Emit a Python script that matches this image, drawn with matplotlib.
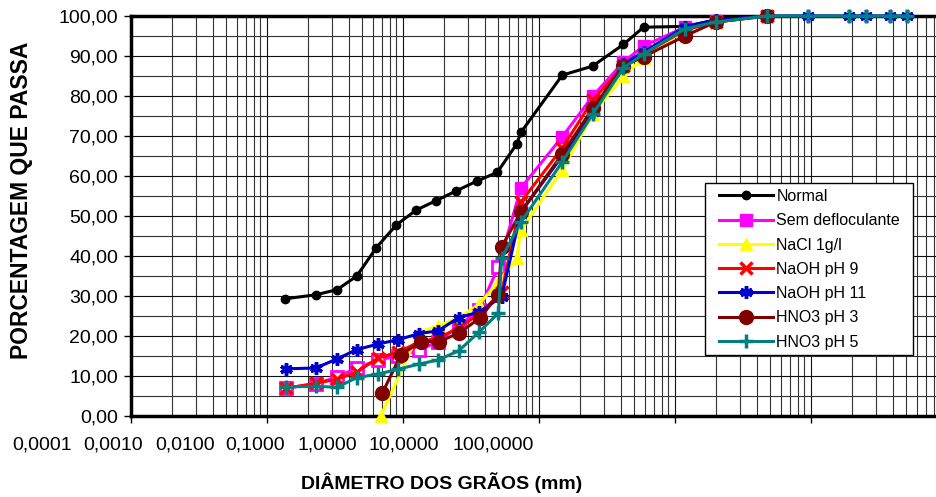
import numpy as np
import matplotlib.pyplot as plt
from matplotlib.patches import Rectangle
from matplotlib.ticker import LogLocator, MultipleLocator, NullFormatter

plt.rcParams['font.family'] = ['Liberation Sans', 'DejaVu Sans']

# Curvas granulométricas: diâmetro (mm) x porcentagem que passa.
normal_x = [0.00136, 0.0023, 0.0033, 0.0046, 0.0064, 0.0090, 0.0126, 0.0175,
            0.0245, 0.035, 0.0496, 0.0689, 0.074, 0.149, 0.25, 0.42, 0.59,
            1.19, 2.0, 4.76]
normal_y = [29.3, 30.3, 31.6, 35.0, 42.1, 47.8, 51.5, 53.8, 56.2, 58.7, 60.9,
            68.0, 70.9, 85.2, 87.5, 92.9, 97.2, 97.4, 99.0, 100.0]

semdef_x = [0.00138, 0.0023, 0.0033, 0.0046, 0.0066, 0.0093, 0.0132, 0.0182,
            0.0258, 0.0365, 0.0505, 0.074, 0.149, 0.25, 0.42, 0.59, 1.19,
            2.0, 4.76]
semdef_y = [7.0, 8.0, 9.8, 12.0, 14.0, 15.0, 16.5, 18.6, 22.5, 26.5, 37.3,
            57.0, 69.8, 80.0, 88.5, 92.5, 97.2, 98.8, 100.0]

nacl_x = [0.0069, 0.0132, 0.0182, 0.0258, 0.0365, 0.0505, 0.069, 0.074,
          0.149, 0.25, 0.42, 0.59, 1.19, 2.0, 4.76]
nacl_y = [0.0, 21.0, 22.5, 24.5, 28.0, 33.5, 39.5, 46.5, 61.5, 75.5, 85.0,
          89.5, 96.5, 98.5, 100.0]

naoh9_x = [0.00138, 0.0023, 0.0033, 0.0046, 0.0066, 0.0093, 0.0132, 0.0182,
           0.0258, 0.0365, 0.0534, 0.074, 0.149, 0.25, 0.42, 0.59, 1.19,
           2.0, 4.76]
naoh9_y = [6.9, 8.2, 9.2, 11.0, 14.5, 16.0, 18.5, 19.5, 22.0, 25.5, 31.0,
           53.5, 67.0, 79.0, 87.5, 90.5, 96.5, 98.5, 100.0]

naoh11_x = [0.00138, 0.0023, 0.0033, 0.0046, 0.0066, 0.0093, 0.0132, 0.0182,
            0.0258, 0.0365, 0.0534, 0.074, 0.149, 0.25, 0.42, 0.59, 1.19,
            2.0, 4.76, 9.52, 19.1, 25.4, 38.1, 50.8]
naoh11_y = [11.8, 12.0, 14.3, 16.6, 18.0, 19.1, 20.6, 21.3, 24.6, 26.0, 29.8,
            51.0, 65.0, 76.0, 88.0, 91.0, 97.3, 99.0, 100.0, 100.0, 100.0,
            100.0, 100.0, 100.0]

hno3_3_x = [0.0071, 0.0097, 0.0136, 0.0186, 0.0261, 0.037, 0.0505, 0.0534,
            0.074, 0.149, 0.25, 0.42, 0.59, 1.19, 2.0, 4.76]
hno3_3_y = [5.8, 15.3, 18.6, 18.6, 20.8, 24.5, 30.3, 42.3, 51.0, 65.5, 77.0,
            87.5, 89.8, 95.0, 98.5, 100.0]

hno3_5_x = [0.00138, 0.0023, 0.0033, 0.0046, 0.0066, 0.0093, 0.0132, 0.0182,
            0.0258, 0.0365, 0.0505, 0.0534, 0.074, 0.149, 0.25, 0.42, 0.59,
            1.19, 2.0, 4.76, 9.52, 19.1, 25.4, 38.1, 50.8]
hno3_5_y = [7.3, 7.4, 7.2, 9.6, 10.5, 11.7, 13.0, 14.0, 16.3, 21.0, 25.7,
            39.5, 48.5, 63.5, 75.5, 87.0, 90.5, 96.8, 98.5, 100.0, 100.0,
            100.0, 100.0, 100.0, 100.0]

labels = ['Normal', 'Sem defloculante', 'NaCl 1g/l', 'NaOH pH 9',
          'NaOH pH 11', 'HNO3 pH 3', 'HNO3 pH 5']
y_ticks = [0, 10, 20, 30, 40, 50, 60, 70, 80, 90, 100]
y_ticklabels = ['0,00', '10,00', '20,00', '30,00', '40,00', '50,00',
                '60,00', '70,00', '80,00', '90,00', '100,00']
x_ticklabels = ['0,0001', '0,0010', '0,0100', '0,1000', '1,0000',
                '10,0000', '100,0000']

series = [(normal_x, normal_y), (semdef_x, semdef_y), (nacl_x, nacl_y),
          (naoh9_x, naoh9_y), (naoh11_x, naoh11_y), (hno3_3_x, hno3_3_y),
          (hno3_5_x, hno3_5_y)]

# Estilo de cada série (cor, marcador, tamanho)
styles = [
    dict(color='black', marker='o', ms=6),
    dict(color='#ff00ff', marker='s', ms=8),
    dict(color='#ffff00', marker='^', ms=8.5),
    dict(color='#ff0000', marker='x', ms=8, mew=2.5),
    dict(color='#0000cc', marker=(6, 2, 0), ms=9, mew=2.5),
    dict(color='#800000', marker='o', ms=10),
    dict(color='#008080', marker='+', ms=10, mew=2.5),
]

W, H = 936, 497
fig = plt.figure(figsize=(W / 100, H / 100), dpi=100)
left, bottom, top = 130.7, 416, 16
ax = fig.add_axes([left / W, (H - bottom) / H, 1 - left / W, (bottom - top) / H])

ax.set_xscale('log')
ax.set_xlim(1e-4, 10 ** (-4 + (W - left) / 136))
ax.set_ylim(0, 100)

for (xs, ys), lab, st in zip(series, labels, styles):
    if lab == 'Sem defloculante':
        # pontos da sedimentação aparecem vazados no original
        n_sed = 11
        ax.plot(xs, ys, lw=2.2, label=lab, clip_on=False, zorder=3,
                markevery=list(range(n_sed, len(xs))), **st)
        ax.plot(xs[:n_sed], ys[:n_sed], ls='none', marker='s', ms=8,
                mfc='white', mec='#ff00ff', mew=2, clip_on=False, zorder=3)
    else:
        ax.plot(xs, ys, lw=2.2, label=lab, clip_on=False, zorder=3, **st)

# grade
ax.xaxis.set_major_locator(LogLocator(base=10, numticks=20))
ax.xaxis.set_minor_locator(LogLocator(base=10, subs=np.arange(2, 10), numticks=100))
ax.xaxis.set_major_formatter(NullFormatter())
ax.xaxis.set_minor_formatter(NullFormatter())
ax.set_yticks(y_ticks)
ax.set_yticklabels(y_ticklabels, fontsize=14)
ax.yaxis.set_minor_locator(MultipleLocator(5))
ax.grid(which='major', color='#111111', lw=0.8)
ax.grid(which='minor', color='#333333', lw=0.8)
ax.set_axisbelow(True)
ax.tick_params(which='major', direction='out', length=5, width=1, pad=4)
ax.tick_params(which='minor', length=0)

for s in ['left', 'bottom', 'top']:
    ax.spines[s].set_linewidth(2.5)
ax.spines['right'].set_visible(False)

# rótulos do eixo x (deslocados como no original)
x_centers = [41.7, 113.3, 185, 255.3, 327.5, 404, 493.3]
for cx, t in zip(x_centers, x_ticklabels):
    fig.text(cx / W, (H - 445) / H, t, ha='center', va='center', fontsize=14)

fig.text(441.5 / W, (H - 483) / H, 'DIÂMETRO DOS GRÃOS (mm)', ha='center',
         va='center', fontsize=14, fontweight='bold')
fig.text(22 / W, (H - 200) / H, 'PORCENTAGEM QUE PASSA', ha='center',
         va='center', rotation=90, fontsize=16.5, fontweight='bold')

# caixa da legenda desenhada à parte (mais folga horizontal que vertical)
box = Rectangle((705 / W, (H - 355) / H), 208 / W, 172 / H,
                transform=fig.transFigure, facecolor='white',
                edgecolor='black', lw=1, zorder=4, clip_on=False)
ax.add_patch(box)
leg = ax.legend(loc='upper left', bbox_to_anchor=(719 / W, (H - 189) / H),
                bbox_transform=fig.transFigure, borderaxespad=0,
                fontsize=11.5, handlelength=3.4, handletextpad=0.2,
                labelspacing=0.58, borderpad=0, frameon=False)
leg.set_zorder(5)

plt.savefig('out.png', dpi=100)
